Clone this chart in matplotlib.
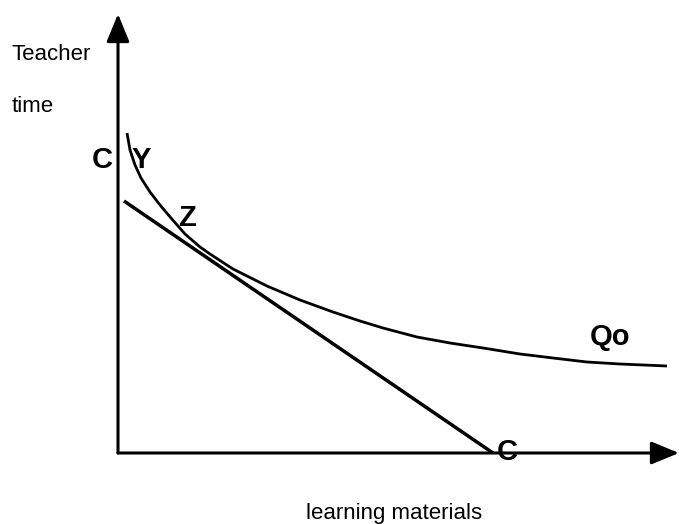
import matplotlib
matplotlib.use("Agg")
import matplotlib.pyplot as plt
from matplotlib.patches import FancyArrowPatch

plt.rcParams['font.family'] = ['Liberation Sans', 'DejaVu Sans']

# Isoquant Qo (learning materials, teacher time)
isoquant_x = [9, 12, 17, 23, 32, 42, 53, 67, 82, 92, 115, 149, 182, 215,
              242, 265, 299, 332, 365, 402, 435, 469, 502, 549]
isoquant_y = [320, 303, 288, 275, 261, 248, 235, 219, 206, 199, 184, 167,
              153, 141, 132, 125, 116, 110, 105, 99, 95, 91, 89, 87]

# Isocost line C-C
isocost_x = [6, 375]
isocost_y = [252, 0]

# Point labels
point_labels = ["C", "Y", "Z", "Qo", "C"]
label_x = [-16, 23, 69, 492, 389]
label_y = [293, 293, 235, 116, 1]

y_axis_label = ["Teacher", "time"]
x_axis_label = "learning materials"

fig = plt.figure(figsize=(6.79, 5.24), dpi=100)
ax = fig.add_axes([0, 0, 1, 1])
ax.set_xlim(-118, 561)
ax.set_ylim(-71, 453)
ax.axis('off')

# axes with arrows
x_end, y_end = 561, 439
for tip in [(x_end, 0), (0, y_end)]:
    arr = FancyArrowPatch((0, 0), tip,
                          arrowstyle='-|>,head_length=17,head_width=7',
                          mutation_scale=1, lw=2.2, color='black',
                          shrinkA=0, shrinkB=0)
    ax.add_patch(arr)

ax.plot(isoquant_x, isoquant_y, color='black', lw=2.0,
        solid_capstyle='butt', solid_joinstyle='round')
ax.plot(isocost_x, isocost_y, color='black', lw=2.5, solid_capstyle='butt')

for t, x, y in zip(point_labels, label_x, label_y):
    ax.text(x, y, t, fontsize=21, fontweight='bold', ha='center', va='center')

ax.text(-106, 398, y_axis_label[0], fontsize=16, ha='left', va='center')
ax.text(-106, 347, y_axis_label[1], fontsize=16, ha='left', va='center')
ax.text(276, -60, x_axis_label, fontsize=16, ha='center', va='center')

fig.savefig("out.png", dpi=100)
